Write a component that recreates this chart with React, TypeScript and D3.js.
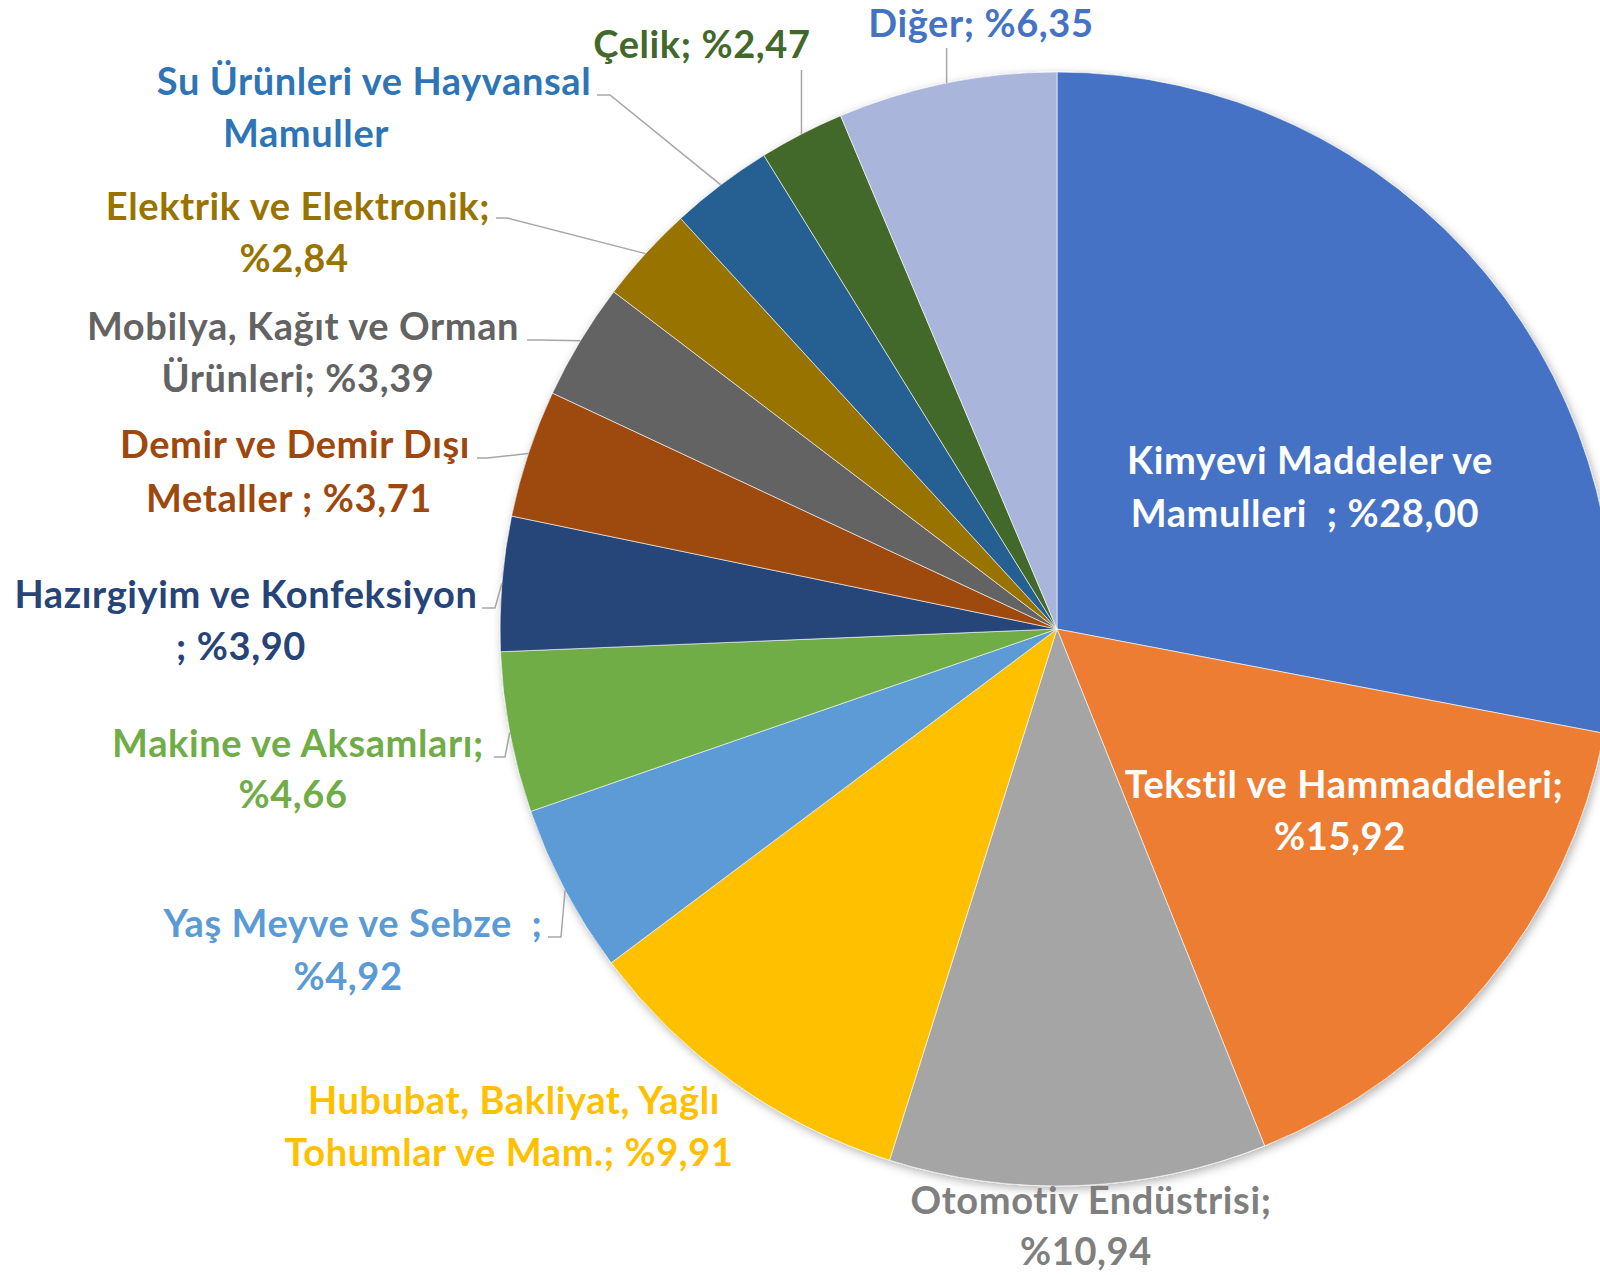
import React from 'react';
import * as d3 from 'd3';

// sector shares (%), clockwise from 12 o'clock
const categories = [
  'Kimyevi Maddeler ve Mamulleri',
  'Tekstil ve Hammaddeleri',
  'Otomotiv Endüstrisi',
  'Hububat, Bakliyat, Yağlı Tohumlar ve Mam.',
  'Yaş Meyve ve Sebze',
  'Makine ve Aksamları',
  'Hazırgiyim ve Konfeksiyon',
  'Demir ve Demir Dışı Metaller',
  'Mobilya, Kağıt ve Orman Ürünleri',
  'Elektrik ve Elektronik',
  'Su Ürünleri ve Hayvansal Mamuller',
  'Çelik',
  'Diğer',
];
const values = [28.0, 15.92, 10.94, 9.91, 4.92, 4.66, 3.9, 3.71, 3.39, 2.84, 2.99, 2.47, 6.35];

const labelLines = [
  ['Kimyevi Maddeler ve', 'Mamulleri  ; %28,00'],
  ['Tekstil ve Hammaddeleri;', '%15,92'],
  ['Otomotiv Endüstrisi;', '%10,94'],
  ['Hububat, Bakliyat, Yağlı', 'Tohumlar ve Mam.; %9,91'],
  ['Yaş Meyve ve Sebze  ;', '%4,92'],
  ['Makine ve Aksamları;', '%4,66'],
  ['Hazırgiyim ve Konfeksiyon', '; %3,90'],
  ['Demir ve Demir Dışı', 'Metaller ; %3,71'],
  ['Mobilya, Kağıt ve Orman', 'Ürünleri; %3,39'],
  ['Elektrik ve Elektronik;', '%2,84'],
  ['Su Ürünleri ve Hayvansal', 'Mamuller'],
  ['Çelik; %2,47'],
  ['Diğer; %6,35'],
];

const sliceColors = [
  '#4472C4', '#ED7D31', '#A5A5A5', '#FFC000', '#5B9BD5', '#70AD47',
  '#264478', '#9E480E', '#636363', '#997300', '#255E91', '#43682B', '#A9B5DA',
];
const textColors = [
  '#FFFFFF', '#FFFFFF', '#7F7F7F', '#FFC000', '#5B9BD5', '#70AD47',
  '#264478', '#9E480E', '#636363', '#997300', '#2E75B6', '#43682B', '#4472C4',
];

// label placement: [centre x, baseline] for each line
const labelPos: [number, number][][] = [
  [[1310, 474], [1305, 527]],
  [[1344, 798], [1340, 850]],
  [[1091, 1214], [1086, 1265]],
  [[514, 1114], [509, 1166]],
  [[353, 937], [348, 990]],
  [[298, 757], [293, 808]],
  [[246, 608], [241, 660]],
  [[295, 458], [289, 512]],
  [[303, 340], [298, 392]],
  [[298, 220], [294, 272]],
  [[374, 95], [306, 147]],
  [[702, 58]],
  [[981, 37]],
];
// leader start points (x = -1 -> straight down to the slice)
const leaders: (number[][] | null)[] = [
  null, null, null, null,
  [[548, 937], [561, 937]],
  [[494, 757], [505, 757]],
  [[482, 608], [495, 608]],
  [[477, 458], [487, 458]],
  [[527, 340], [540, 340]],
  [[496, 218], [507, 218]],
  [[597, 95], [610, 95]],
  [[-1, 70]],
  [[-1, 48]],
];

const W = 1600;
const H = 1275;
const cx = 1057;
const cy = 629;
const R = 557;

export default function App() {
  const pie = d3.pie<number>().sort(null).value(d => d)(values);
  const arc = d3.arc<d3.PieArcDatum<number>>().innerRadius(0).outerRadius(R);

  const edgePoint = (d: d3.PieArcDatum<number>) => {
    const a = (d.startAngle + d.endAngle) / 2;
    return [cx + R * Math.sin(a), cy - R * Math.cos(a)];
  };

  const line = d3.line();

  return (
    <svg
      width={W}
      height={H}
      style={{ position: 'absolute', left: 0, top: 0, background: '#fff' }}
      fontFamily="Lato, 'Open Sans', sans-serif"
      fontWeight="bold"
    >
      <defs>
        <filter id="shadow" x="-10%" y="-10%" width="120%" height="120%">
          <feDropShadow dx="2" dy="3" stdDeviation="5" floodColor="#000" floodOpacity="0.3" />
        </filter>
      </defs>

      <g transform={`translate(${cx},${cy})`} filter="url(#shadow)">
        {pie.map((d, i) => (
          <path key={i} d={arc(d) || ''} fill={sliceColors[i]} stroke="#fff" strokeWidth={0.6} />
        ))}
      </g>

      {pie.map((d, i) => {
        const pts = leaders[i];
        if (!pts) return null;
        const e = edgePoint(d);
        const path = pts.map(p => [p[0] < 0 ? e[0] : p[0], p[1]] as [number, number]);
        path.push([e[0], e[1]]);
        return <path key={'l' + i} d={line(path) || ''} fill="none" stroke="#A6A6A6" strokeWidth={1.5} />;
      })}

      {labelLines.map((lines, i) => (
        <text
          key={'t' + i}
          textAnchor="middle"
          fontSize={38}
          letterSpacing={0.6}
          fill={textColors[i]}
          style={{ whiteSpace: 'pre' }}
        >
          {lines.map((s, j) => (
            <tspan key={j} x={labelPos[i][j][0]} y={labelPos[i][j][1]}>
              {s}
            </tspan>
          ))}
        </text>
      ))}
    </svg>
  );
}
